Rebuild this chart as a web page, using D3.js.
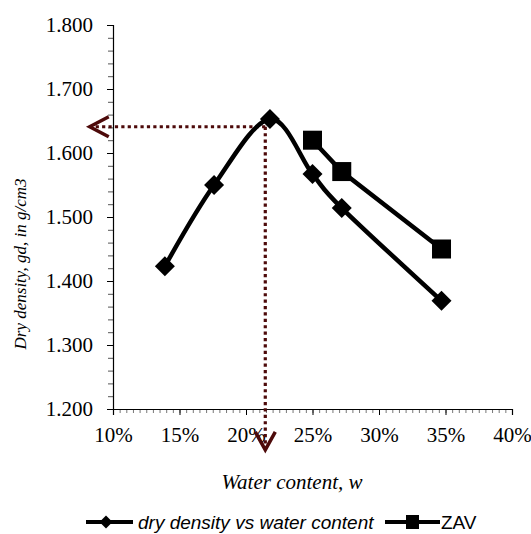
<!DOCTYPE html>
<html>
<head>
<meta charset="utf-8">
<script src="https://cdn.jsdelivr.net/npm/d3@7"></script>
<style>
  body { margin: 0; background: #fff; }
  svg { display: block; }
</style>
</head>
<body>
<div id="chart"></div>
<script>
// data
const waterContent = [0.139, 0.176, 0.218, 0.250, 0.272, 0.347];
const dryDensity = [1.423, 1.550, 1.653, 1.567, 1.514, 1.369];
const zavWater = [0.250, 0.272, 0.347];
const zavDensity = [1.620, 1.571, 1.450];

// optimum annotation (dotted arrows)
const optimumWater = 0.2145;
const maxDryDensity = 1.641;
const arrowEndWater = 0.0825;
const arrowEndDensity = 1.136;

const xTicks = [0.10, 0.15, 0.20, 0.25, 0.30, 0.35, 0.40];
const yTicks = [1.2, 1.3, 1.4, 1.5, 1.6, 1.7, 1.8];

const W = 531, H = 534;
const margin = { top: 25, right: 19, bottom: 125, left: 113 };
const width = W - margin.left - margin.right,
  height = H - margin.top - margin.bottom;

const maroon = "#4d0a0a";
const serif = "'Liberation Serif', 'Times New Roman', serif";
const sans = "'Liberation Sans', Arial, sans-serif";

const svg = d3
  .select("#chart")
  .append("svg")
  .attr("width", W)
  .attr("height", H)
  .append("g")
  .attr("transform", `translate(${margin.left},${margin.top})`);

const x = d3.scaleLinear().domain([0.10, 0.40]).range([0, width]);
const y = d3.scaleLinear().domain([1.2, 1.8]).range([height, 0]);

// minor ticks
const xMinor = d3.range(0.10, 0.40001, 0.005);
const yMinor = d3.range(1.2, 1.80001, 0.02);

svg
  .append("g")
  .attr("transform", `translate(0,${height})`)
  .call(d3.axisBottom(x).tickValues(xMinor).tickSize(4).tickFormat(""))
  .call((g) => g.select(".domain").remove())
  .call((g) => g.selectAll("line").attr("stroke", "#777"));

svg
  .append("g")
  .call(d3.axisLeft(y).tickValues(yMinor).tickSize(5).tickFormat(""))
  .call((g) => g.select(".domain").remove())
  .call((g) => g.selectAll("line").attr("stroke", "#555"));

// main axes
const xAxis = svg
  .append("g")
  .attr("transform", `translate(0,${height})`)
  .call(
    d3.axisBottom(x).tickValues(xTicks).tickSize(6).tickPadding(12)
      .tickFormat(d3.format(".0%"))
  );

const yAxis = svg
  .append("g")
  .call(
    d3.axisLeft(y).tickValues(yTicks).tickSize(6).tickPadding(14)
      .tickFormat(d3.format(".3f"))
  );

[xAxis, yAxis].forEach((g) => {
  g.selectAll("text")
    .attr("fill", "#000")
    .style("font-family", serif)
    .style("font-size", "21px");
  g.selectAll("line").attr("stroke", "#000");
  g.select(".domain").attr("stroke", "#000").attr("stroke-width", 1.2);
});

// dotted optimum lines with open arrowheads
const dotted = svg.append("g")
  .attr("fill", "none")
  .attr("stroke", maroon);

dotted.append("line")
  .attr("x1", x(optimumWater)).attr("y1", y(maxDryDensity))
  .attr("x2", x(arrowEndWater) + 2).attr("y2", y(maxDryDensity))
  .attr("stroke-width", 3.2)
  .attr("stroke-dasharray", "3.2,3.2");

dotted.append("line")
  .attr("x1", x(optimumWater)).attr("y1", y(maxDryDensity))
  .attr("x2", x(optimumWater)).attr("y2", y(arrowEndDensity) - 2)
  .attr("stroke-width", 3.2)
  .attr("stroke-dasharray", "3.2,3.2");

const hx = x(arrowEndWater), hy = y(maxDryDensity);
dotted.append("path")
  .attr("d", `M${hx + 19},${hy - 10}L${hx},${hy}L${hx + 19},${hy + 10}`)
  .attr("stroke-width", 3.5);

const vx = x(optimumWater), vy = y(arrowEndDensity);
dotted.append("path")
  .attr("d", `M${vx - 10},${vy - 18}L${vx},${vy}L${vx + 10},${vy - 18}`)
  .attr("stroke-width", 3.5);

// series
const ddPoints = waterContent.map((w, i) => [w, dryDensity[i]]);
const zavPoints = zavWater.map((w, i) => [w, zavDensity[i]]);

const smooth = d3.line()
  .x((d) => x(d[0]))
  .y((d) => y(d[1]))
  .curve(d3.curveCardinal.tension(0));

const straight = d3.line()
  .x((d) => x(d[0]))
  .y((d) => y(d[1]));

svg.append("path")
  .datum(zavPoints)
  .attr("d", straight)
  .attr("fill", "none")
  .attr("stroke", "#000")
  .attr("stroke-width", 4.5);

svg.append("path")
  .datum(ddPoints)
  .attr("d", smooth)
  .attr("fill", "none")
  .attr("stroke", "#000")
  .attr("stroke-width", 4.5);

const diamond = (s) => `M0,${-s}L${s},0L0,${s}L${-s},0Z`;

svg.selectAll(".dd-marker")
  .data(ddPoints)
  .join("path")
  .attr("class", "dd-marker")
  .attr("d", diamond(10))
  .attr("transform", (d) => `translate(${x(d[0])},${y(d[1])})`)
  .attr("fill", "#000");

svg.selectAll(".zav-marker")
  .data(zavPoints)
  .join("rect")
  .attr("class", "zav-marker")
  .attr("x", (d) => x(d[0]) - 9.5)
  .attr("y", (d) => y(d[1]) - 9.5)
  .attr("width", 19)
  .attr("height", 19)
  .attr("fill", "#000");

// axis titles
svg.append("text")
  .attr("x", 179)
  .attr("y", 464)
  .attr("text-anchor", "middle")
  .style("font-family", serif)
  .style("font-style", "italic")
  .style("font-size", "21px")
  .text("Water content, w");

svg.append("text")
  .attr("transform", `translate(${20 - margin.left + 6},${264 - margin.top}) rotate(-90)`)
  .attr("text-anchor", "middle")
  .style("font-family", serif)
  .style("font-style", "italic")
  .style("font-size", "17px")
  .text("Dry density, gd, in g/cm3");

// legend
const legend = svg.append("g")
  .attr("transform", `translate(${-margin.left},${-margin.top})`);

legend.append("line")
  .attr("x1", 86).attr("x2", 133).attr("y1", 522).attr("y2", 522)
  .attr("stroke", "#000").attr("stroke-width", 4);
legend.append("path")
  .attr("d", diamond(6.5))
  .attr("transform", "translate(106,522)")
  .attr("fill", "#000");
legend.append("text")
  .attr("x", 138).attr("y", 529)
  .style("font-family", sans)
  .style("font-style", "italic")
  .style("font-size", "19px")
  .text("dry density vs water content");

legend.append("line")
  .attr("x1", 385).attr("x2", 440).attr("y1", 522).attr("y2", 522)
  .attr("stroke", "#000").attr("stroke-width", 4);
legend.append("rect")
  .attr("x", 406).attr("y", 515).attr("width", 13).attr("height", 14)
  .attr("fill", "#000");
legend.append("text")
  .attr("x", 441).attr("y", 529)
  .style("font-family", sans)
  .style("font-size", "19px")
  .text("ZAV");
</script>
</body>
</html>
